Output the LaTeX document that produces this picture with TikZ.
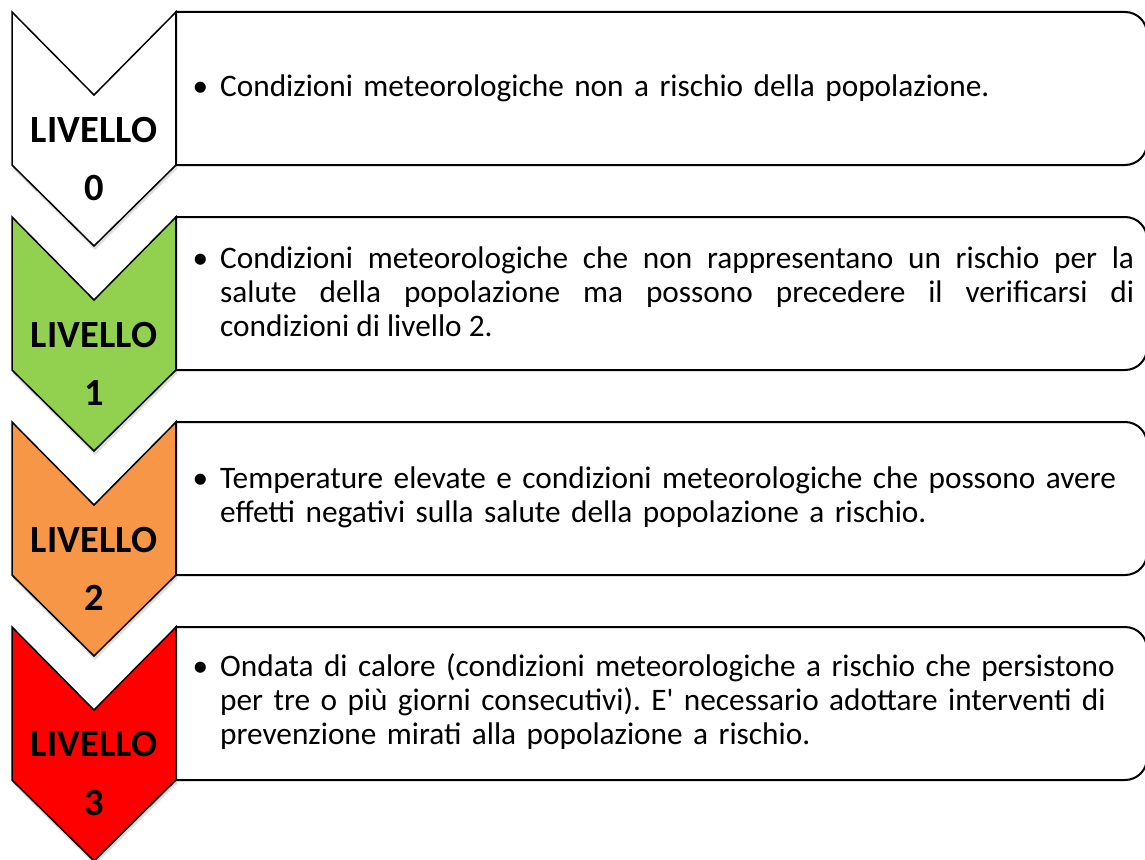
\documentclass[tikz,border=0pt]{standalone}
\usepackage{fontspec}
\setmainfont{Carlito}[Ligatures=TeXOff]
\usetikzlibrary{shadows}

\definecolor{verde}{HTML}{92D050}
\definecolor{arancio}{HTML}{F79646}
\definecolor{rosso}{HTML}{FF0000}

\begin{document}
\begin{tikzpicture}[x=1pt, y=-1pt,
    chevron/.style={draw=black, line width=1.5pt, line join=miter,
        drop shadow={shadow xshift=1pt, shadow yshift=-4pt, fill=black!50, opacity=0.25}},
    infobox/.style={draw=black, line width=2pt, fill=white},
    levlabel/.style={anchor=base, inner sep=0pt, font=\fontsize{38.5}{40}\selectfont\bfseries},
    bodytext/.style={anchor=west, inner sep=0pt, text width=940pt, align=left,
        font=\fontsize{31.3}{34}\selectfont\frenchspacing}]

    \useasboundingbox (0,0) rectangle (1145,859);

    % livello 0
    \draw[chevron, fill=white] (12,12) -- (94,95) -- (176,12) -- (176,165) -- (94,246) -- (12,165) -- cycle;
    \draw[infobox] (176,12) -- (1125,12) to[out=0, in=90] (1147,34) -- (1147,143) to[out=-90, in=0] (1125,165) -- (176,165) -- cycle;
    \node[levlabel] (liv0) at (94,142) {LIVELLO};
    \node[levlabel] (num0) at (94,200) {0};
    \node[bodytext] (txt0) at (220,88) {\llap{\textbullet\hspace{12pt}}Condizioni meteorologiche non a rischio della popolazione.};

    % livello 1
    \draw[chevron, fill=verde] (12,217) -- (94,300) -- (176,217) -- (176,370) -- (94,451) -- (12,370) -- cycle;
    \draw[infobox] (176,217) -- (1125,217) to[out=0, in=90] (1147,239) -- (1147,348) to[out=-90, in=0] (1125,370) -- (176,370) -- cycle;
    \node[levlabel] (liv1) at (94,347) {LIVELLO};
    \node[levlabel] (num1) at (94,405) {1};
    \node[bodytext, text width=914pt, align=justify] (txt1) at (220,292) {\llap{\textbullet\hspace{12pt}}Condizioni meteorologiche che non rappresentano un rischio per la\linebreak salute della popolazione ma possono precedere il verificarsi di\linebreak condizioni di livello 2.};

    % livello 2
    \draw[chevron, fill=arancio] (12,422) -- (94,505) -- (176,422) -- (176,575) -- (94,656) -- (12,575) -- cycle;
    \draw[infobox] (176,422) -- (1125,422) to[out=0, in=90] (1147,444) -- (1147,553) to[out=-90, in=0] (1125,575) -- (176,575) -- cycle;
    \node[levlabel] (liv2) at (94,552) {LIVELLO};
    \node[levlabel] (num2) at (94,610) {2};
    \node[bodytext] (txt2) at (220,497) {\llap{\textbullet\hspace{12pt}}Temperature elevate e condizioni meteorologiche che possono avere\\ effetti negativi sulla salute della popolazione a rischio.};

    % livello 3
    \draw[chevron, fill=rosso] (12,627) -- (94,710) -- (176,627) -- (176,780) -- (94,861) -- (12,780) -- cycle;
    \draw[infobox] (176,627) -- (1125,627) to[out=0, in=90] (1147,649) -- (1147,758) to[out=-90, in=0] (1125,780) -- (176,780) -- cycle;
    \node[levlabel] (liv3) at (94,756) {LIVELLO};
    \node[levlabel] (num3) at (94,815) {3};
    \node[bodytext] (txt3) at (220,702) {\llap{\textbullet\hspace{12pt}}Ondata di calore (condizioni meteorologiche a rischio che persistono\\ per tre o più giorni consecutivi). E' necessario adottare interventi di\\ prevenzione mirati alla popolazione a rischio.};
\end{tikzpicture}
\end{document}
